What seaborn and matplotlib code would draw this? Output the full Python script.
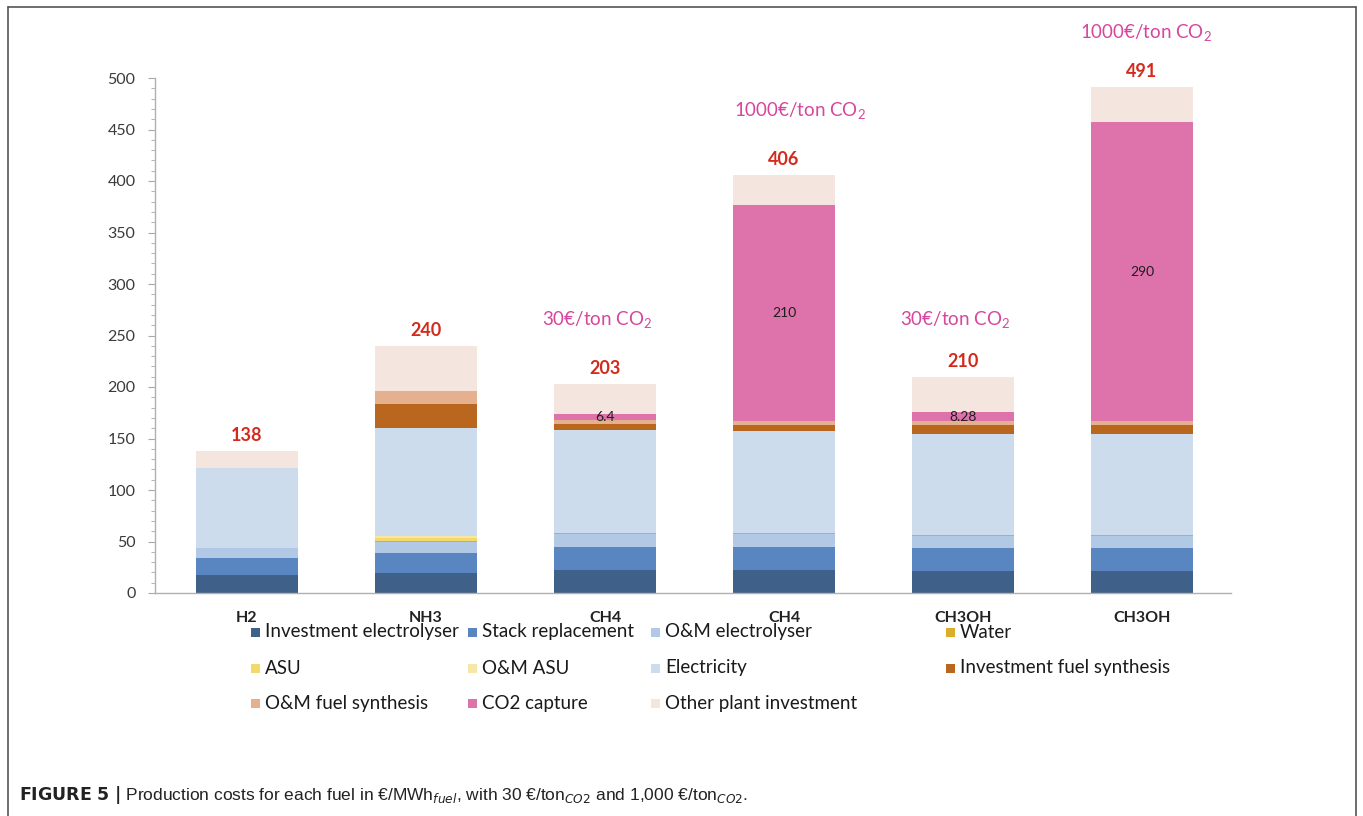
import numpy as np
import pandas as pd
import matplotlib
matplotlib.use("Agg")
import matplotlib.pyplot as plt
from matplotlib.patches import Rectangle
from matplotlib.lines import Line2D
from matplotlib.ticker import MultipleLocator
import seaborn as sns

# ---- data (€/MWh_fuel) ----
fuels = ["H2", "NH3", "CH4", "CH4", "CH3OH", "CH3OH"]
scenarios = ["H2", "NH3", "CH4 @30", "CH4 @1000", "CH3OH @30", "CH3OH @1000"]

components = [
    "Investment electrolyser", "Stack replacement", "O&M electrolyser", "Water",
    "ASU", "O&M ASU", "Electricity", "Investment fuel synthesis",
    "O&M fuel synthesis", "CO2 capture", "Other plant investment",
]
inv_electrolyser = [17, 19.5, 22, 22, 21.5, 21.5]
stack_replacement = [17, 19.5, 22.5, 22.5, 22, 22]
om_electrolyser = [9.5, 11, 13, 13, 12, 12]
water = [0.5, 0.5, 0.5, 0.5, 0.5, 0.5]
asu = [0, 3, 0, 0, 0, 0]
om_asu = [0, 2, 0, 0, 0, 0]
electricity = [77, 105, 100, 99.5, 98, 98]
inv_fuel_synthesis = [0, 23, 6, 5.5, 9.5, 9.5]
om_fuel_synthesis = [0, 13, 3.5, 4, 3.5, 3.5]
co2_capture = [0, 0, 6.4, 210, 8.28, 290]
other_plant = [17, 43.5, 29.1, 29, 34.72, 34]

co2_price_notes = ["30€/ton CO$_\\mathregular{2}$", "1000€/ton CO$_\\mathregular{2}$",
                   "30€/ton CO$_\\mathregular{2}$", "1000€/ton CO$_\\mathregular{2}$"]

colors = ["#3f6088", "#5986c0", "#b1c9e5", "#dcae27", "#f4d86c", "#f6e7a8",
          "#cddcec", "#b9661f", "#e4b08d", "#de72ab", "#f4e6de"]

series = [inv_electrolyser, stack_replacement, om_electrolyser, water, asu, om_asu,
          electricity, inv_fuel_synthesis, om_fuel_synthesis, co2_capture, other_plant]

values = np.array(series, dtype=float)
tops = np.cumsum(values, axis=0)
totals = tops[-1]

rows = []
for ci, comp in enumerate(components):
    for si, sc in enumerate(scenarios):
        rows.append({"component": comp, "scenario": sc,
                     "value": values[ci, si], "top": tops[ci, si]})
df = pd.DataFrame(rows)

# ---- figure ----
sns.set_theme(style="white")
plt.rcParams["font.family"] = ["Lato", "DejaVu Sans"]
plt.rcParams["mathtext.fontset"] = "custom"
plt.rcParams["mathtext.rm"] = "Liberation Sans Narrow"
plt.rcParams["mathtext.it"] = "Liberation Sans Narrow:italic"
plt.rcParams["mathtext.bf"] = "Liberation Sans Narrow:bold"

W, H = 1363, 816
fig = plt.figure(figsize=(W / 100, H / 100), dpi=100)
fig.patch.set_facecolor("white")
ax = fig.add_axes([155 / W, 1 - 593 / H, (1231 - 155) / W, (593 - 78) / H])

# stacked bars: draw cumulative tops from the highest layer down
for ci in range(len(components) - 1, -1, -1):
    sub = df[df["component"] == components[ci]]
    sns.barplot(data=sub, x="scenario", y="top", order=scenarios,
                color=colors[ci], saturation=1, width=0.57,
                linewidth=0, errorbar=None, ax=ax)

ax.set_xlim(-0.514, 5.497)
ax.set_ylim(0, 500)
ax.set_xlabel("")
ax.set_ylabel("")
ax.set_xticks(range(len(fuels)))
ax.set_xticklabels(fuels, fontsize=11.5, fontweight="bold", color="#222222")
ax.tick_params(axis="x", length=0, pad=13)
ax.yaxis.set_major_locator(MultipleLocator(50))
ax.yaxis.set_minor_locator(MultipleLocator(10))
ax.tick_params(axis="y", which="major", direction="out", length=5, width=0.8,
               color="#a8a8a8", labelsize=11.5, labelcolor="#3a3a3a", pad=9, left=True)
ax.tick_params(axis="y", which="minor", direction="out", length=3, width=0.8,
               color="#b8b8b8", left=True)
for side in ["top", "right"]:
    ax.spines[side].set_visible(False)
for side in ["left", "bottom"]:
    ax.spines[side].set_color("#b0b0b0")
    ax.spines[side].set_linewidth(1.0)

# totals above bars
for i, t in enumerate(totals):
    ax.annotate(f"{t:.0f}", (i, t), xytext=(0, 5), textcoords="offset points",
                ha="center", va="bottom", fontsize=13, fontweight="bold",
                color="#d42a1c")

# CO2 capture values inside bars
co2_idx = components.index("CO2 capture")
for i in range(len(scenarios)):
    v = values[co2_idx, i]
    if v > 0:
        mid = tops[co2_idx, i] - v / 2
        ax.text(i, mid, f"{v:g}", ha="center", va="center", fontsize=10,
                color="#1e1e1e")

# CO2 price notes
note_pos = [(1.955, 265), (3.09, 468), (3.955, 265), (5.02, 543)]
for (x, y), note in zip(note_pos, co2_price_notes):
    ax.text(x, y, note, ha="center", va="center", fontsize=13.5,
            fontweight="normal", color="#d6469c", clip_on=False)

# legend, laid out in four columns and three rows
legend_cols_x = [255, 472, 655, 950]
legend_rows_y = [632, 668, 703]
for k, (name, col) in enumerate(zip(components, colors)):
    r, c = divmod(k, 4)
    mx, my = legend_cols_x[c], legend_rows_y[r]
    fig.add_artist(Rectangle(((mx - 4.5) / W, 1 - (my + 4.5) / H), 9 / W, 9 / H,
                             transform=fig.transFigure, facecolor=col,
                             edgecolor="none"))
    fig.text((mx + 10) / W, 1 - my / H, name, ha="left", va="center",
             fontsize=13.5, color="#1a1a1a")

# caption
fig.text(19 / W, 1 - 795 / H,
         r"$\mathbf{FIGURE\ 5\ |}$ Production costs for each fuel in €/MWh$_{\mathit{fuel}}$, "
         r"with 30 €/ton$_{\mathit{CO2}}$ and 1,000 €/ton$_{\mathit{CO2}}$.",
         ha="left", va="center", fontsize=12.5, color="#222222",
         family=["Liberation Sans Narrow", "Liberation Sans", "DejaVu Sans"])

# frame
frame_kw = dict(transform=fig.transFigure, color="#555555", linewidth=1.2)
fig.add_artist(Line2D([7.5 / W, 7.5 / W], [0, 1 - 6.5 / H], **frame_kw))
fig.add_artist(Line2D([7.5 / W, 1355.5 / W], [1 - 6.5 / H, 1 - 6.5 / H], **frame_kw))
fig.add_artist(Line2D([1355.5 / W, 1355.5 / W], [0, 1 - 6.5 / H], **frame_kw))

fig.savefig("out.png", dpi=100, facecolor="white")
